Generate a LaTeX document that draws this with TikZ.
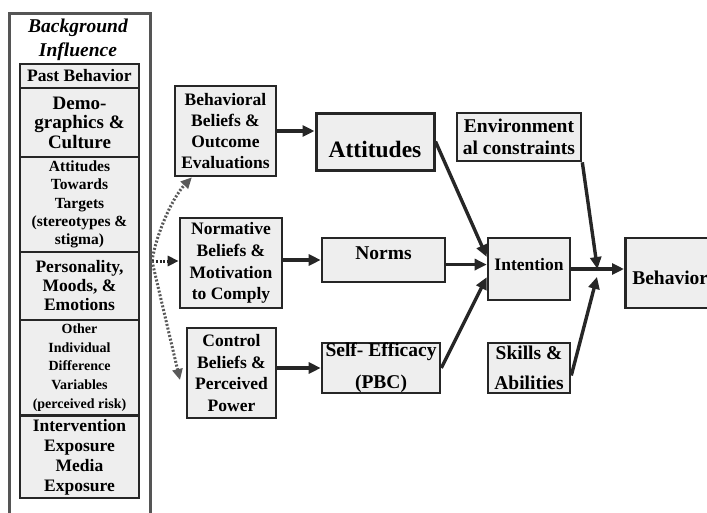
\documentclass[tikz,border=0pt]{standalone}
\usepackage{fontspec}
\setmainfont{Liberation Serif}
\usetikzlibrary{arrows.meta}
\definecolor{linec}{HTML}{262626}
\definecolor{boxf}{HTML}{EEEEEE}
\definecolor{dotc}{HTML}{5A5A5A}
\definecolor{framec}{HTML}{555555}
\newcommand{\fsz}[2]{\fontsize{#1}{#2}\selectfont}
\tikzset{
  bx/.style={rectangle,draw=linec,fill=boxf,line width=2.6pt,inner sep=0pt,align=center,font=\bfseries\fsz{17.5}{21}},
  bgbx/.style={bx,minimum width=119pt},
  bgframe/.style={draw=framec,line width=3.2pt,fill=white},
  arr/.style={draw=linec,line width=3.4pt,-{Triangle[length=12pt,width=11pt]}},
  dotarr/.style={draw=dotc,line width=3pt,dash pattern=on 2pt off 1.8pt,-{Triangle[length=11pt,width=10pt]}}
}
\begin{document}
\begin{tikzpicture}[x=1pt,y=-1pt]
\useasboundingbox (0,0) rectangle (707,512);
\node[bgframe,minimum width=141pt,minimum height=520pt,anchor=north west] (bg) at (8,12) {};
\node[font=\bfseries\itshape\fsz{19.5}{24},align=center] (bgt) at (78,40) {Background\\Influence};
\node[bgbx,minimum height=24pt] (past) at (79.5,76) {Past Behavior};
\node[bgbx,minimum height=69pt,font=\bfseries\fsz{19}{19.5}] (demo) at (79.5,122.5) {Demo-\\graphics \&\\Culture};
\node[bgbx,minimum height=95pt,font=\bfseries\fsz{15.5}{18.3}] (atar) at (79.5,204.5) {Attitudes\\Towards\\Targets\\(stereotypes \&\\stigma)};
\node[bgbx,minimum height=68pt,font=\bfseries\fsz{17.5}{19}] (pers) at (79.5,286) {Personality,\\Moods, \&\\Emotions};
\node[bgbx,minimum height=95pt,font=\bfseries\fsz{14}{18.7}] (indiv) at (79.5,367.5) {Other\\Individual\\Difference\\Variables\\(perceived risk)};
\node[bgbx,minimum height=82pt,font=\bfseries\fsz{17.5}{20}] (expo) at (79.5,457) {Intervention\\Exposure\\Media\\Exposure};
\node[bx,minimum width=101pt,minimum height=90pt] (bbel) at (225.5,131) {Behavioral\\Beliefs \&\\Outcome\\Evaluations};
\node[bx,minimum width=102pt,minimum height=90pt,font=\bfseries\fsz{17.5}{21.7}] (nbel) at (231,263) {Normative\\Beliefs \&\\Motivation\\to Comply};
\node[bx,minimum width=89pt,minimum height=90pt,font=\bfseries\fsz{17.5}{21.7}] (cbel) at (231.5,373) {Control\\Beliefs \&\\Perceived\\Power};
\node[bx,minimum width=118pt,minimum height=57pt,line width=3pt,font=\bfseries\fsz{23.5}{28}] (att) at (375,141.5) {\raisebox{-8pt}[\height][\depth]{Attitudes}};
\node[bx,minimum width=123pt,minimum height=44pt,font=\bfseries\fsz{19.5}{23}] (norms) at (383.5,260) {\raisebox{7pt}[\height][\depth]{Norms}};
\node[bx,minimum width=118pt,minimum height=50pt,font=\bfseries\fsz{19.5}{32}] (eff) at (381,368) {Self- Efficacy\\(PBC)};
\node[bx,minimum width=124pt,minimum height=48pt,font=\bfseries\fsz{19.5}{21.7}] (env) at (519,137) {Environment\\al constraints};
\node[bx,minimum width=82pt,minimum height=62pt] (int) at (529,269) {\raisebox{4pt}[\height][\depth]{Intention}};
\node[bx,minimum width=82pt,minimum height=50pt,font=\bfseries\fsz{19.5}{30}] (skill) at (529,368) {Skills \&\\Abilities};
\node[bx,anchor=west,text width=100pt,align=left,inner xsep=7pt,minimum height=70pt,font=\bfseries\fsz{19.5}{23}] (beh) at (624,273) {\raisebox{-5pt}[\height][\depth]{Behavior}};
\coordinate (src) at (152,261);
\coordinate (dn) at (180,380);
\coordinate (jn) at (598,273);
\draw[dotarr] (src) .. controls (156,235) and (172,198) .. (bbel.234);
\draw[dotarr,draw=linec] (src) -- (src -| nbel.west);
\draw[dotarr] (src) -- (dn);
\draw[arr] (bbel.east) -- (bbel.east -| att.west);
\draw[arr] (nbel.east |- norms.west) -- (norms.west);
\draw[arr] (cbel.east |- eff.west) -- (eff.west);
\draw[arr] (att.east) -- (int.164);
\draw[arr] (int.174 -| norms.east) -- (int.174);
\draw[arr] (eff.east) -- (int.191);
\draw[arr] (int.east) -- (int.east -| beh.west);
\draw[arr,shorten >=4pt] (env.south east) -- (jn);
\draw[arr,shorten >=4pt] (skill.350) -- (jn);
\end{tikzpicture}
\end{document}
